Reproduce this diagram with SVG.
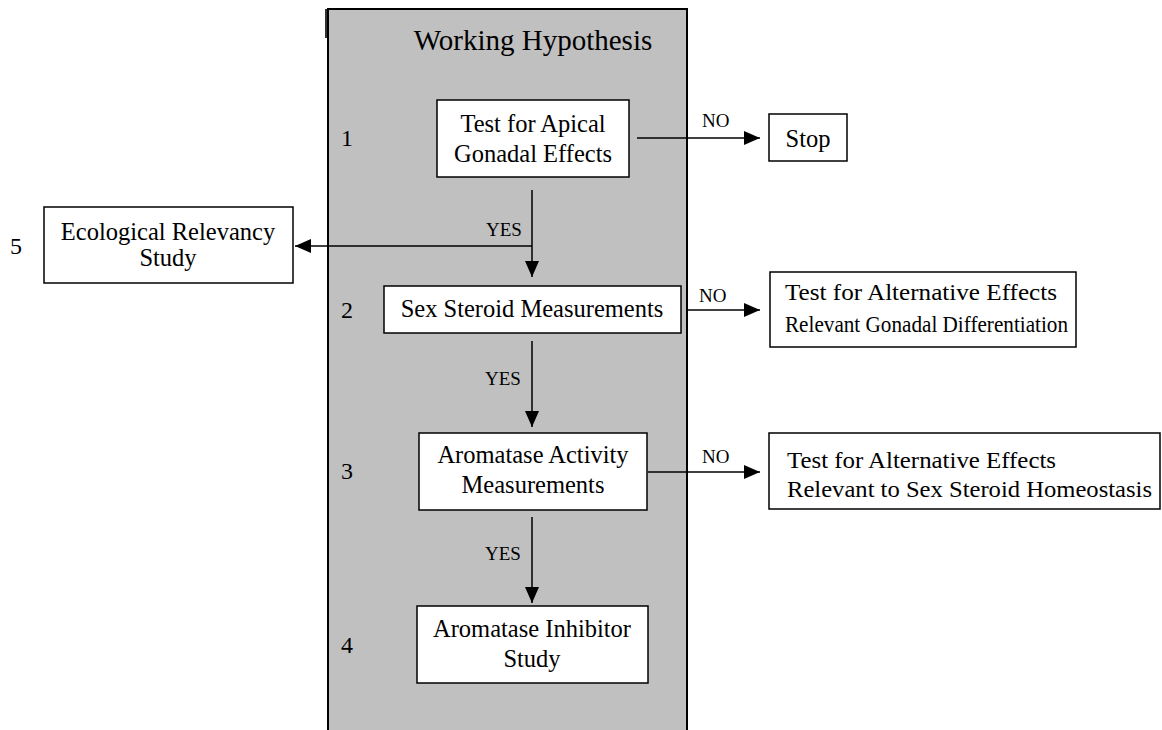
<svg xmlns="http://www.w3.org/2000/svg" width="1162" height="730" viewBox="0 0 1162 730">
<defs>
<marker id="ah" markerUnits="userSpaceOnUse" markerWidth="16" markerHeight="14" refX="16" refY="7" orient="auto">
<path d="M0,0 L16,7 L0,14 z" fill="#000"/>
</marker>
<style>
.t{font-family:"Liberation Serif","Times New Roman",serif;fill:#000}
.b{fill:#fff;stroke:#000;stroke-width:1.5}
.c{stroke:#000;stroke-width:1.5;fill:none;marker-end:url(#ah)}
.lbl{font-size:19px}
.n{font-size:24px}
.m{font-size:24.5px;text-anchor:middle}
</style>
</defs>
<rect width="1162" height="730" fill="#fff"/>
<g id="panel">
<rect x="325" y="9" width="3" height="29" fill="#333"/>
<rect x="328" y="9" width="359" height="725" fill="#c0c0c0" stroke="#000" stroke-width="2"/>
<text class="t" x="533" y="50" font-size="29" text-anchor="middle">Working Hypothesis</text>
<text class="t n" x="341" y="146">1</text>
<text class="t n" x="341" y="318">2</text>
<text class="t n" x="341" y="479">3</text>
<text class="t n" x="341" y="653">4</text>
</g>
<g id="n1">
<rect class="b" x="437" y="100" width="192" height="77"/>
<text class="t m" x="533" y="132">Test for Apical</text>
<text class="t m" x="533" y="162">Gonadal Effects</text>
</g>
<g id="n2">
<rect class="b" x="384" y="286" width="297" height="47"/>
<text class="t m" x="532" y="317">Sex Steroid Measurements</text>
</g>
<g id="n3">
<rect class="b" x="419" y="433" width="228" height="77"/>
<text class="t m" x="533" y="463">Aromatase Activity</text>
<text class="t m" x="533" y="493">Measurements</text>
</g>
<g id="n4">
<rect class="b" x="417" y="606" width="231" height="77"/>
<text class="t m" x="532" y="637">Aromatase Inhibitor</text>
<text class="t m" x="532" y="667">Study</text>
</g>
<g id="n5">
<text class="t n" x="10" y="254" font-size="25">5</text>
<rect class="b" x="44" y="207" width="249" height="76"/>
<text class="t m" x="168" y="240">Ecological Relevancy</text>
<text class="t m" x="168" y="266">Study</text>
</g>
<g id="stop">
<rect class="b" x="769" y="114" width="78" height="47"/>
<text class="t m" x="808" y="147">Stop</text>
</g>
<g id="alt1">
<rect class="b" x="770" y="272" width="306" height="75"/>
<text class="t n" x="785" y="300" textLength="272" lengthAdjust="spacingAndGlyphs">Test for Alternative Effects</text>
<text class="t n" x="785" y="332" textLength="283" lengthAdjust="spacingAndGlyphs">Relevant Gonadal Differentiation</text>
</g>
<g id="alt2">
<rect class="b" x="769" y="433" width="391" height="76"/>
<text class="t n" x="787" y="468" textLength="269" lengthAdjust="spacingAndGlyphs">Test for Alternative Effects</text>
<text class="t n" x="787" y="497" textLength="365" lengthAdjust="spacingAndGlyphs">Relevant to Sex Steroid Homeostasis</text>
</g>
<g id="connectors">
<line class="c" x1="637" y1="138" x2="760" y2="138"/>
<text class="t lbl" x="702" y="127">NO</text>
<line class="c" x1="532" y1="190" x2="532" y2="277"/>
<line class="c" x1="532" y1="246" x2="295" y2="246"/>
<text class="t lbl" x="486" y="236">YES</text>
<line class="c" x1="688" y1="310" x2="760" y2="310"/>
<text class="t lbl" x="699" y="302">NO</text>
<line class="c" x1="532" y1="341" x2="532" y2="427"/>
<text class="t lbl" x="485" y="385">YES</text>
<line class="c" x1="648" y1="472" x2="760" y2="472"/>
<text class="t lbl" x="702" y="463">NO</text>
<line class="c" x1="532" y1="517" x2="532" y2="603"/>
<text class="t lbl" x="485" y="560">YES</text>
</g>
</svg>
